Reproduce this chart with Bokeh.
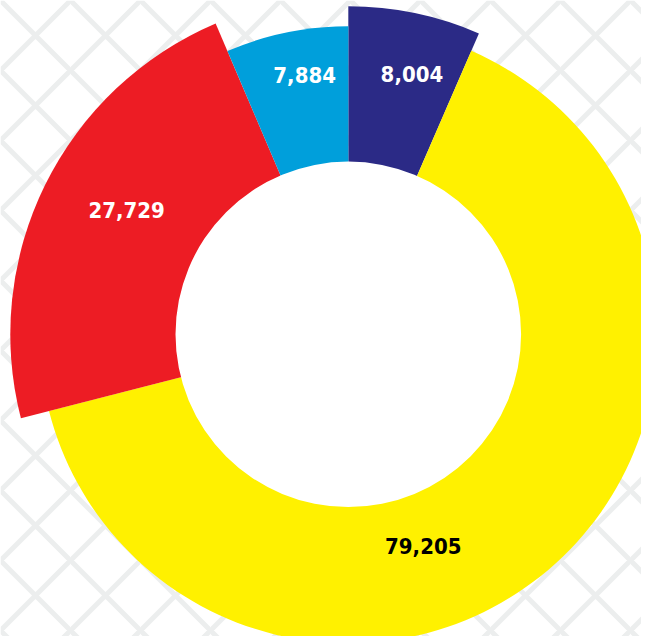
import numpy as np
from bokeh.plotting import figure
from bokeh.models import Range1d, ColumnDataSource
from bokeh.core.properties import value
from bokeh.embed import file_html
from bokeh.resources import INLINE

# ---- data ----
labels = ["8,004", "79,205", "27,729", "7,884"]
values = [8004, 79205, 27729, 7884]

# ---- style ----
colors = ["#2b2a86", "#fff100", "#ed1c24", "#009fdb"]
text_colors = ["#ffffff", "#000000", "#ffffff", "#ffffff"]
outer_r = [328, 309, 338, 308]
inner_r = 172.8
label_r = [268, 225, 254, 263]
label_shift_deg = [-2, -21, -3, -2]

W, H = 641, 636
cx_px, cy_px = 347.8, 333.8  # centre inside the plot area

p = figure(width=W, height=H, output_backend="svg", toolbar_location=None,
           x_range=Range1d(-cx_px, W - cx_px), y_range=Range1d(-(H - cy_px), cy_px),
           min_border=0, background_fill_color="#ffffff", border_fill_color="#ffffff")
p.axis.visible = False
p.grid.visible = False
p.outline_line_color = None

# background lattice pattern
p.quad(left=[-cx_px], right=[W - cx_px], bottom=[-(H - cy_px)], top=[cy_px],
       fill_color=None, line_color=None, hatch_pattern="diagonal_cross",
       hatch_color="#eceeee", hatch_scale=70, hatch_weight=5)

# angles: start at 12 o'clock, clockwise
vals = np.array(values, dtype=float)
spans = vals / vals.sum() * 2 * np.pi
ends = np.pi / 2 - np.concatenate([[0], np.cumsum(spans)[:-1]])
starts = ends - spans
mids = (starts + ends) / 2

src = ColumnDataSource(dict(start=starts, end=ends, color=colors, r=outer_r))
p.wedge(x=0, y=0, radius="r", start_angle="start", end_angle="end",
        fill_color="color", line_color=None, source=src)
# white hole
p.circle(x=[0], y=[0], radius=inner_r, fill_color="#ffffff", line_color=None)

la = mids + np.deg2rad(label_shift_deg)
lx = np.array(label_r) * np.cos(la)
ly = np.array(label_r) * np.sin(la)
tsrc = ColumnDataSource(dict(x=lx, y=ly, t=labels, c=text_colors))
p.text(x="x", y="y", text="t", text_color="c", source=tsrc,
       text_font=value("DejaVu Sans Condensed, Roboto, sans-serif"), text_font_style="bold",
       text_font_size="22px", text_align="center", text_baseline="middle")

open("out.html", "w").write(file_html(p, INLINE))
